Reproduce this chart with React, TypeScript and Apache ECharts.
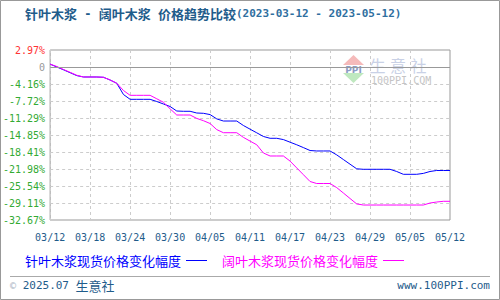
import React, { useEffect, useRef } from "react";
import * as echarts from "echarts";

const dates = [
  "03/12", "03/13", "03/14", "03/15", "03/16", "03/17", "03/18", "03/19", "03/20", "03/21",
  "03/22", "03/23", "03/24", "03/25", "03/26", "03/27", "03/28", "03/29", "03/30", "03/31",
  "04/01", "04/02", "04/03", "04/04", "04/05", "04/06", "04/07", "04/08", "04/09", "04/10",
  "04/11", "04/12", "04/13", "04/14", "04/15", "04/16", "04/17", "04/18", "04/19", "04/20",
  "04/21", "04/22", "04/23", "04/24", "04/25", "04/26", "04/27", "04/28", "04/29", "04/30",
  "05/01", "05/02", "05/03", "05/04", "05/05", "05/06", "05/08", "05/09", "05/10", "05/11",
  "05/12",
];

const softwoodName = "针叶木浆现货价格变化幅度";
const hardwoodName = "阔叶木浆现货价格变化幅度";

const softwood = [
  0, -0.59, -1.18, -1.79, -2.4, -2.69, -2.69, -2.69, -2.75, -3.32, -4.01,
  -6.36, -7.37, -7.37, -7.37, -7.37, -7.83, -8.35, -8.88, -9.82, -9.88,
  -9.88, -10.24, -10.3, -10.57, -11.47, -11.92, -11.92, -11.92, -12.86, -13.63,
  -14.39, -15.16, -15.54, -15.54, -15.81, -16.36, -16.9, -17.49, -18.1, -18.2,
  -18.2, -18.2, -19.02, -19.99, -20.97, -21.94, -22.04, -22.04, -22.04, -22.04,
  -22.04, -22.5, -23.09, -23.09, -23.09, -22.9, -22.5, -22.29, -22.29, -22.29,
];

const hardwood = [
  0, -0.49, -1.12, -1.71, -2.33, -2.69, -2.69, -2.69, -2.75, -3.32, -4.01,
  -5.52, -6.53, -6.53, -6.53, -6.53, -7.26, -7.99, -9.36, -10.66, -10.66,
  -10.66, -11.37, -11.85, -12.44, -13.72, -14.37, -14.37, -14.37, -15.35, -16.13,
  -16.9, -18.62, -19.25, -19.25, -19.25, -20.32, -21.75, -23.17, -24.6, -25.02,
  -25.02, -25.02, -25.88, -27.01, -28.16, -29.3, -29.53, -29.53, -29.53, -29.53,
  -29.53, -29.53, -29.53, -29.53, -29.53, -29.53, -29.11, -28.9, -28.75, -28.75,
];

const yTickLabels = [
  "2.97%", "0", "-4.16%", "-7.72%", "-11.29%", "-14.85%",
  "-18.41%", "-21.98%", "-25.54%", "-29.11%", "-32.67%",
];
const yMax = 2.97;
const yMin = -32.67;

const MONO = "'DejaVu Sans Mono', 'Liberation Mono', monospace";
const CJK = "'Noto Sans CJK SC', sans-serif";
const DARK_BLUE = "#1f5c8b";

export default function App() {
  const ref = useRef<HTMLDivElement>(null);

  useEffect(() => {
    if (!ref.current) return;
    const chart = echarts.init(ref.current, null, { renderer: "svg" });
    const nTicks = yTickLabels.length - 1;
    const zeroLineValue = yMax - (yMax - yMin) / nTicks;

    chart.setOption({
      animation: false,
      backgroundColor: "#ffffff",
      title: {
        left: 25,
        top: 7,
        padding: 0,
        text:
          "{a|针叶木浆}{m| - }{a|阔叶木浆}{m| }{a|价格趋势比较}{b|(2023-03-12 - 2023-05-12)}",
        textStyle: {
          rich: {
            a: { fontFamily: CJK, fontSize: 13, color: DARK_BLUE },
            m: { fontFamily: MONO, fontSize: 12, color: DARK_BLUE },
            b: { fontFamily: MONO, fontSize: 11, color: "#2f6f9f" },
          },
        },
      },
      legend: {
        left: 25,
        top: 254,
        padding: 0,
        align: "right",
        icon: "rect",
        itemWidth: 21,
        itemHeight: 1,
        itemGap: 15,
        textStyle: { fontFamily: CJK, fontSize: 13 },
        data: [
          { name: softwoodName, textStyle: { color: "#0000ff" } },
          { name: hardwoodName, textStyle: { color: "#ff00ff" } },
        ],
      },
      grid: {
        left: 50,
        right: 50,
        top: 50,
        bottom: 80,
        show: true,
        borderColor: "#999999",
        borderWidth: 1,
        backgroundColor: "transparent",
      },
      xAxis: {
        type: "category",
        data: dates,
        boundaryGap: false,
        axisLine: { show: false },
        axisTick: { show: false },
        axisLabel: {
          interval: 5,
          color: DARK_BLUE,
          fontFamily: MONO,
          fontSize: 10,
          margin: 12,
        },
        splitLine: {
          show: true,
          interval: 5,
          lineStyle: { color: "#cccccc", type: [3, 3], width: 1 },
        },
      },
      yAxis: [
        {
          type: "value",
          min: 0,
          max: nTicks,
          interval: 1,
          axisLine: { show: false },
          axisTick: { show: false },
          axisLabel: {
            margin: 5,
            fontFamily: MONO,
            fontSize: 10,
            formatter: (v: number) => {
              const i = Math.round(nTicks - v);
              const s = yTickLabels[i];
              const st = i === 0 ? "r" : i === 1 ? "z" : "g";
              return `{${st}|${s}}`;
            },
            rich: {
              r: { color: "#ff3333", fontFamily: MONO, fontSize: 10 },
              z: { color: "#999999", fontFamily: MONO, fontSize: 10 },
              g: { color: "#33aa33", fontFamily: MONO, fontSize: 10 },
            },
          },
          splitLine: {
            show: true,
            lineStyle: { color: "#cccccc", type: [3, 3], width: 1 },
          },
        },
        {
          type: "value",
          min: yMin,
          max: yMax,
          show: false,
          splitLine: { show: false },
        },
      ],
      series: [
        {
          name: softwoodName,
          type: "line",
          yAxisIndex: 1,
          data: softwood,
          symbol: "none",
          color: "#0000ff",
          lineStyle: { color: "#0000ff", width: 1 },
          markLine: {
            silent: true,
            symbol: "none",
            label: { show: false },
            lineStyle: { color: "#999999", type: "solid", width: 1 },
            data: [{ yAxis: zeroLineValue }],
          },
        },
        {
          name: hardwoodName,
          type: "line",
          yAxisIndex: 1,
          data: hardwood,
          symbol: "none",
          color: "#ff00ff",
          lineStyle: { color: "#ff00ff", width: 1 },
        },
      ],
      graphic: [
        {
          type: "rect",
          shape: { x: 0.5, y: 0.5, width: 499, height: 299 },
          style: { fill: "none", stroke: "#999999", lineWidth: 1 },
          silent: true,
        },
        {
          type: "line",
          shape: { x1: 10, y1: 276.5, x2: 490, y2: 276.5 },
          style: { stroke: "#aaaaaa", lineWidth: 1 },
          silent: true,
        },
        {
          type: "text",
          x: 10,
          y: 285,
          style: {
            text: "{c|©}{d| 2025.07 }{e|生意社}",
            verticalAlign: "middle",
            rich: {
              c: { fontFamily: MONO, fontSize: 10, fill: "#a8b4c4" },
              d: { fontFamily: MONO, fontSize: 11, fill: DARK_BLUE },
              e: { fontFamily: CJK, fontSize: 13, fill: DARK_BLUE },
            },
          },
          silent: true,
        },
        {
          type: "text",
          x: 490,
          y: 285,
          style: {
            text: "www.100PPI.com",
            align: "right",
            verticalAlign: "middle",
            fontFamily: MONO,
            fontSize: 11,
            fill: DARK_BLUE,
          },
          silent: true,
        },
        {
          type: "polygon",
          shape: { points: [[343, 65], [353.5, 55], [364, 65]] },
          style: { fill: "#f5baba" },
          silent: true,
          z: 0,
        },
        {
          type: "polygon",
          shape: { points: [[343, 73], [364, 73], [353.5, 83]] },
          style: { fill: "#bfe8bf" },
          silent: true,
          z: 0,
        },
        {
          type: "text",
          x: 353.5,
          y: 69.5,
          style: {
            text: "PPI",
            align: "center",
            verticalAlign: "middle",
            fontFamily: "'DejaVu Sans'",
            fontWeight: "bold",
            fontSize: 9,
            fill: "#8d9cc6",
          },
          silent: true,
          z: 0,
        },
        ...["生", "意", "社"].map((ch, i) => ({
          type: "text",
          x: 377.5 + i * 20.5,
          y: 65,
          style: {
            text: ch,
            align: "center",
            verticalAlign: "middle",
            fontFamily: CJK,
            fontSize: 16,
            fill: "#c9d1e6",
          },
          silent: true,
          z: 0,
        })),
        {
          type: "text",
          x: 371,
          y: 80.5,
          style: {
            text: "100PPI.COM",
            align: "left",
            verticalAlign: "middle",
            fontFamily: MONO,
            fontSize: 10,
            fill: "#c4c4c4",
          },
          silent: true,
          z: 0,
        },
      ],
    });

    return () => chart.dispose();
  }, []);

  return (
    <div
      ref={ref}
      style={{ position: "absolute", left: 0, top: 0, width: 500, height: 300 }}
    />
  );
}
